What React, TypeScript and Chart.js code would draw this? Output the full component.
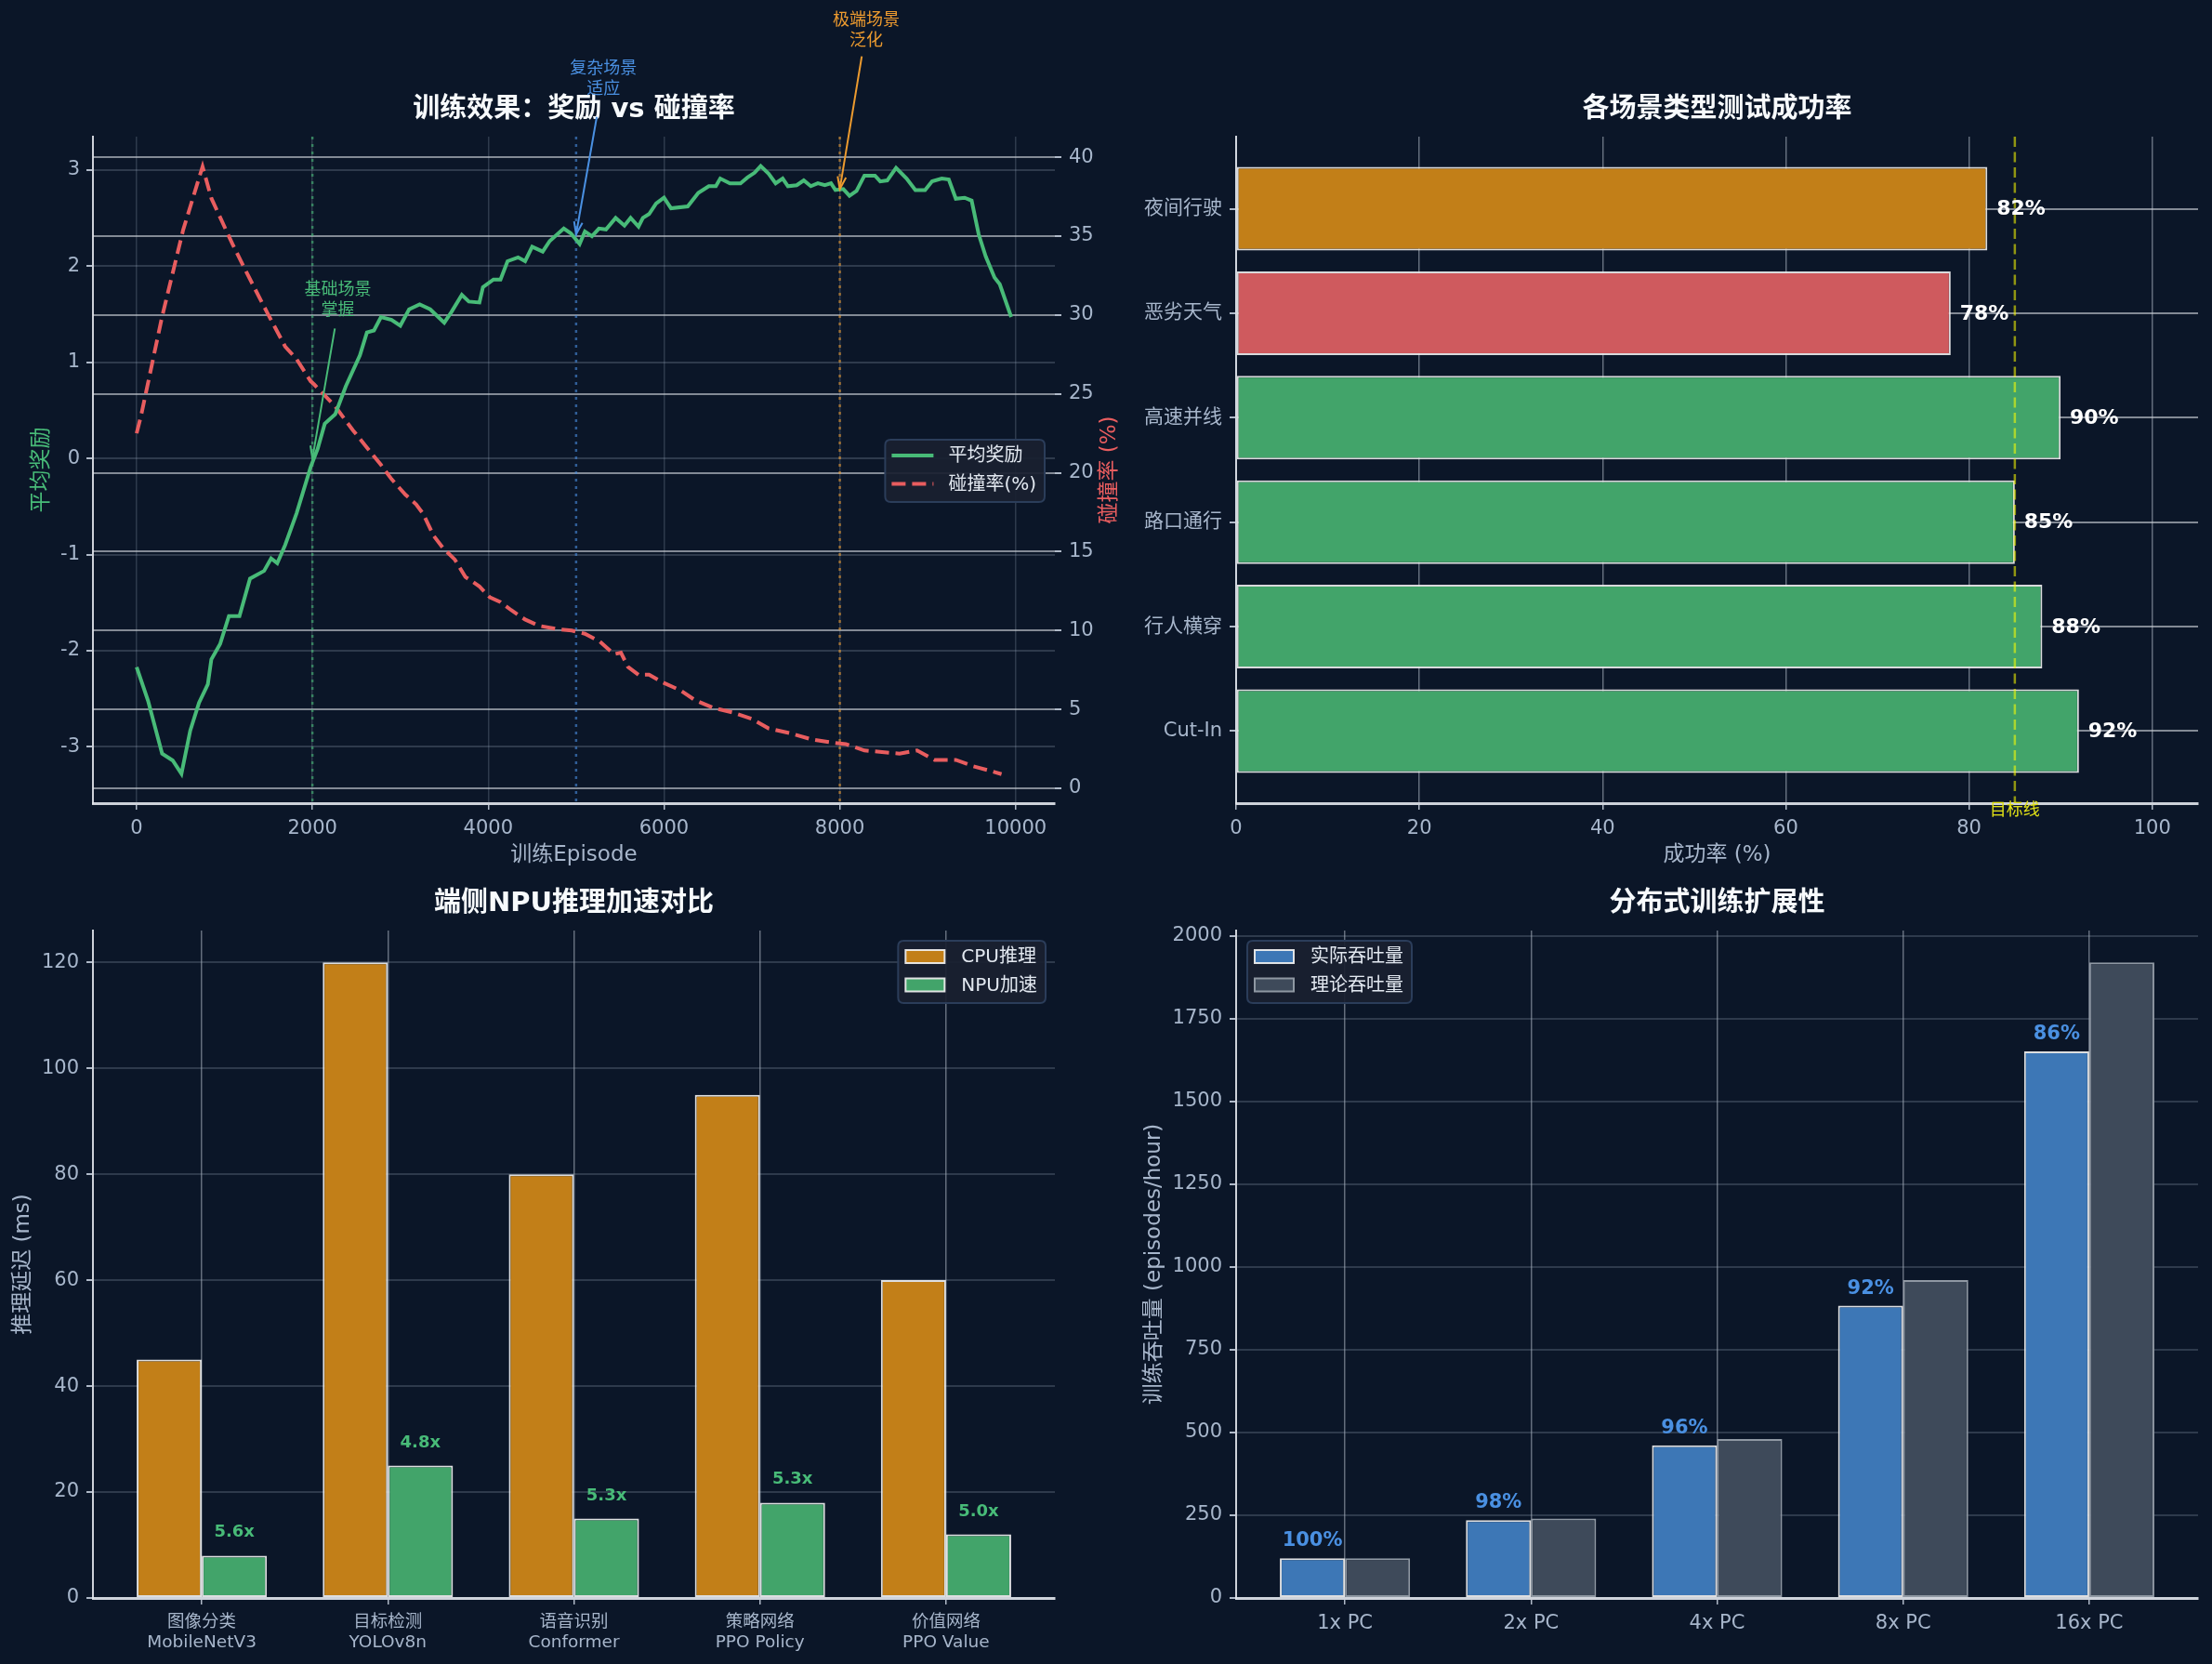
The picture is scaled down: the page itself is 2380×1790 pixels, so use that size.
import React, { useEffect, useRef } from 'react';
import { Chart, registerables } from 'chart.js';

Chart.register(...registerables);

// ---------------- data ----------------
// Panel 1: training curve
const rewardEpisodes = [0, 130, 290, 410, 510, 610, 710, 810, 850, 950, 1050, 1170, 1290, 1450, 1530, 1600, 1690, 1820, 1980, 2060, 2140, 2260, 2380, 2540, 2620, 2700, 2780, 2900, 3000, 3100, 3220, 3340, 3500, 3580, 3700, 3780, 3900, 3940, 4060, 4140, 4220, 4340, 4420, 4500, 4620, 4700, 4860, 4940, 5040, 5100, 5180, 5260, 5340, 5450, 5550, 5620, 5710, 5760, 5830, 5910, 6000, 6080, 6270, 6390, 6510, 6590, 6640, 6750, 6870, 6950, 7030, 7100, 7190, 7270, 7350, 7410, 7510, 7590, 7670, 7750, 7830, 7900, 7950, 8040, 8110, 8190, 8280, 8400, 8460, 8540, 8640, 8760, 8860, 8970, 9050, 9160, 9240, 9320, 9420, 9500, 9580, 9660, 9760, 9820, 9950];
const rewardValues = [-2.17, -2.52, -3.07, -3.14, -3.28, -2.83, -2.54, -2.35, -2.09, -1.93, -1.64, -1.64, -1.25, -1.17, -1.04, -1.09, -0.9, -0.57, -0.09, 0.1, 0.36, 0.46, 0.75, 1.07, 1.31, 1.33, 1.47, 1.44, 1.38, 1.55, 1.6, 1.55, 1.41, 1.52, 1.7, 1.63, 1.62, 1.78, 1.86, 1.86, 2.05, 2.09, 2.05, 2.2, 2.15, 2.26, 2.39, 2.34, 2.23, 2.36, 2.31, 2.39, 2.38, 2.5, 2.42, 2.5, 2.41, 2.5, 2.54, 2.65, 2.71, 2.6, 2.62, 2.76, 2.83, 2.83, 2.91, 2.86, 2.86, 2.92, 2.97, 3.04, 2.96, 2.86, 2.91, 2.83, 2.84, 2.89, 2.83, 2.86, 2.84, 2.86, 2.79, 2.8, 2.73, 2.78, 2.94, 2.94, 2.88, 2.89, 3.02, 2.91, 2.79, 2.79, 2.88, 2.91, 2.9, 2.7, 2.71, 2.68, 2.33, 2.1, 1.88, 1.81, 1.47];
const collisionEpisodes = [0, 50, 290, 530, 750, 850, 1090, 1250, 1490, 1690, 1820, 1980, 2020, 2260, 2460, 2620, 2780, 2900, 3060, 3180, 3260, 3380, 3490, 3620, 3740, 3900, 4020, 4140, 4260, 4420, 4580, 4780, 4950, 5100, 5270, 5430, 5510, 5590, 5710, 5830, 5990, 6190, 6350, 6560, 6790, 7000, 7190, 7430, 7680, 7910, 8070, 8280, 8480, 8680, 8880, 9080, 9320, 9520, 9720, 9840];
const collisionValues = [22.5, 23.6, 29.9, 35.4, 39.4, 37.4, 34.5, 32.7, 30.1, 28.0, 27.2, 25.8, 25.6, 24.2, 22.7, 21.6, 20.5, 19.6, 18.6, 18.0, 17.4, 16.0, 15.2, 14.5, 13.4, 12.8, 12.1, 11.8, 11.3, 10.7, 10.3, 10.1, 10.0, 9.8, 9.3, 8.5, 8.6, 7.7, 7.2, 7.2, 6.7, 6.2, 5.6, 5.1, 4.8, 4.4, 3.8, 3.5, 3.1, 2.9, 2.8, 2.4, 2.3, 2.2, 2.4, 1.8, 1.8, 1.4, 1.1, 0.9];
const milestoneEpisodes = [2000, 5000, 8000];
const milestoneRewards = [0.0, 2.33, 2.8];
const milestoneTexts = [['基础场景', '掌握'], ['复杂场景', '适应'], ['极端场景', '泛化']];
const episodeTicks = [0, 2000, 4000, 6000, 8000, 10000];
const rewardTicks = [-3, -2, -1, 0, 1, 2, 3];
const collisionTicks = [0, 5, 10, 15, 20, 25, 30, 35, 40];

// Panel 2: scenario success rates (bottom to top)
const scenarioNames = ['Cut-In', '行人横穿', '路口通行', '高速并线', '恶劣天气', '夜间行驶'];
const scenarioSuccess = [92, 88, 85, 90, 78, 82];
const targetRate = 85;
const successTicks = [0, 20, 40, 60, 80, 100];

// Panel 3: NPU acceleration
const modelTasks = ['图像分类', '目标检测', '语音识别', '策略网络', '价值网络'];
const modelNames = ['MobileNetV3', 'YOLOv8n', 'Conformer', 'PPO Policy', 'PPO Value'];
const cpuLatency = [45, 120, 80, 95, 60];
const npuLatency = [8, 25, 15, 18, 12];
const latencyTicks = [0, 20, 40, 60, 80, 100, 120];

// Panel 4: distributed scaling
const clusterSizes = ['1x PC', '2x PC', '4x PC', '8x PC', '16x PC'];
const actualThroughput = [120, 235, 461, 883, 1651];
const theoreticalThroughput = [120, 240, 480, 960, 1920];
const scalingEfficiency = [100, 98, 96, 92, 86];
const throughputTicks = [0, 250, 500, 750, 1000, 1250, 1500, 1750, 2000];

// ---------------- style ----------------
const W = 2380;
const H = 1790;
const BG = '#0b1628';
const FONT = '"DejaVu Sans", "Noto Sans CJK SC", sans-serif';
const TICK = '#a7b6cb';
const TICK_MARK = 'rgba(205,214,228,0.85)';
const SPINE = 'rgba(226,230,236,0.9)';
const GRID_DIM = 'rgba(160,174,192,0.24)';
const GRID_BRIGHT = 'rgba(205,210,216,0.62)';
const GRID_MID = 'rgba(190,198,210,0.5)';
const TITLE = '#f7fafc';
const LABEL = '#a7b6cb';
const GREEN = '#48bb78';
const RED = '#e85d5f';
const BLUE = '#4a90e2';
const ORANGE = '#ed9b2f';
const BAR_ORANGE = '#c27f18';
const BAR_RED = '#cf5a5e';
const BAR_GREEN = '#42a46a';
const BAR_BLUE = '#3d77b6';
const BAR_GRAY = '#3e4a5a';

function rgba(hex: string, a: number) {
  const n = parseInt(hex.slice(1), 16);
  return `rgba(${(n >> 16) & 255},${(n >> 8) & 255},${n & 255},${a})`;
}

function fit(size: number) {
  return (s: any) => {
    if (s.isHorizontal()) s.height = size;
    else s.width = size;
  };
}

function ticksAt(values: number[]) {
  return (s: any) => {
    s.ticks = values.map((v) => ({ value: v }));
  };
}

function drawText(ctx: any, str: string, x: number, y: number, o: any) {
  ctx.save();
  ctx.font = `${o.weight || 'normal'} ${o.size}px ${FONT}`;
  ctx.fillStyle = o.color;
  ctx.textAlign = o.align || 'center';
  ctx.textBaseline = o.baseline || 'middle';
  ctx.translate(x, y);
  if (o.rotate) ctx.rotate(o.rotate);
  ctx.fillText(str, 0, 0);
  ctx.restore();
}

function roundRect(ctx: any, x: number, y: number, w: number, h: number, r: number) {
  ctx.beginPath();
  ctx.moveTo(x + r, y);
  ctx.lineTo(x + w - r, y);
  ctx.quadraticCurveTo(x + w, y, x + w, y + r);
  ctx.lineTo(x + w, y + h - r);
  ctx.quadraticCurveTo(x + w, y + h, x + w - r, y + h);
  ctx.lineTo(x + r, y + h);
  ctx.quadraticCurveTo(x, y + h, x, y + h - r);
  ctx.lineTo(x, y + r);
  ctx.quadraticCurveTo(x, y, x + r, y);
  ctx.closePath();
}

function drawLegend(ctx: any, items: any[], pos: any) {
  ctx.save();
  ctx.font = `20px ${FONT}`;
  const textW = Math.max(...items.map((it) => ctx.measureText(it.label).width));
  const w = 68 + textW + 9;
  const h = 67;
  const left = pos.left !== undefined ? pos.left : pos.right - w;
  const top = pos.top !== undefined ? pos.top : pos.cy - h / 2;
  roundRect(ctx, left, top, w, h, 6);
  ctx.fillStyle = 'rgba(26,32,48,0.93)';
  ctx.fill();
  ctx.strokeStyle = '#2b3d5a';
  ctx.lineWidth = 2;
  ctx.stroke();
  items.forEach((it, i) => {
    const cy = top + 17 + i * 30.5;
    if (it.kind === 'line') {
      ctx.save();
      ctx.strokeStyle = it.color;
      ctx.lineWidth = 4;
      if (it.dash) ctx.setLineDash(it.dash);
      ctx.beginPath();
      ctx.moveTo(left + 7, cy);
      ctx.lineTo(left + 52, cy);
      ctx.stroke();
      ctx.restore();
    } else {
      ctx.fillStyle = it.color;
      ctx.fillRect(left + 8, cy - 7, 42, 14);
      ctx.strokeStyle = it.border;
      ctx.lineWidth = 2;
      ctx.strokeRect(left + 8, cy - 7, 42, 14);
    }
    drawText(ctx, it.label, left + 68, cy + 1, { size: 20, color: '#e2e8f0', align: 'left' });
  });
  ctx.restore();
}

function drawArrow(ctx: any, x0: number, y0: number, x1: number, y1: number, color: string) {
  ctx.save();
  ctx.strokeStyle = color;
  ctx.lineWidth = 2;
  ctx.beginPath();
  ctx.moveTo(x0, y0);
  ctx.lineTo(x1, y1);
  ctx.stroke();
  const a = Math.atan2(y1 - y0, x1 - x0);
  const L = 14;
  const s = 0.33;
  ctx.beginPath();
  ctx.moveTo(x1 - L * Math.cos(a - s), y1 - L * Math.sin(a - s));
  ctx.lineTo(x1, y1);
  ctx.lineTo(x1 - L * Math.cos(a + s), y1 - L * Math.sin(a + s));
  ctx.stroke();
  ctx.restore();
}

const baseOptions = {
  responsive: false,
  animation: false,
  devicePixelRatio: 1,
  events: [],
  plugins: { legend: { display: false }, title: { display: false }, tooltip: { enabled: false } },
};

// ---------------- panel 1 ----------------
function makeTrainingChart() {
  const milestoneColors = [GREEN, BLUE, ORANGE];
  // text block centre and arrow start, in data coordinates
  const notes = [
    { tx: 2290, ty: 1.64, ax: 2255, ay: 1.35 },
    { tx: 5310, ty: 3.94, ax: 5235, ay: 3.55 },
    { tx: 8300, ty: 4.44, ax: 8250, ay: 4.18 },
  ];
  const decor = {
    id: 'trainingDecor',
    beforeDatasetsDraw(chart: any) {
      const { ctx, chartArea: ca, scales } = chart;
      milestoneEpisodes.forEach((ep, i) => {
        const px = scales.x.getPixelForValue(ep);
        ctx.save();
        ctx.strokeStyle = rgba(milestoneColors[i], 0.6);
        ctx.lineWidth = 2.5;
        ctx.setLineDash([3, 5]);
        ctx.beginPath();
        ctx.moveTo(px, ca.top);
        ctx.lineTo(px, ca.bottom);
        ctx.stroke();
        ctx.restore();
      });
    },
    afterDatasetsDraw(chart: any) {
      const { ctx, chartArea: ca } = chart;
      const ds = chart.data.datasets;
      drawLegend(
        ctx,
        [
          { label: ds[0].label, kind: 'line', color: ds[0].borderColor },
          { label: ds[1].label, kind: 'line', color: ds[1].borderColor, dash: ds[1].borderDash },
        ],
        { right: ca.right - 11, cy: (ca.top + ca.bottom) / 2 + 1 }
      );
    },
    afterDraw(chart: any) {
      const { ctx, chartArea: ca, scales } = chart;
      const cx = (ca.left + ca.right) / 2;
      drawText(ctx, '训练效果：奖励 vs 碰撞率', cx, ca.top - 29, { size: 29, weight: 'bold', color: TITLE });
      drawText(ctx, '训练Episode', cx, ca.bottom + 56, { size: 23, color: LABEL });
      drawText(ctx, '平均奖励', 45, (ca.top + ca.bottom) / 2, { size: 23, color: GREEN, rotate: -Math.PI / 2 });
      drawText(ctx, '碰撞率 (%)', 1194, (ca.top + ca.bottom) / 2, { size: 23, color: RED, rotate: -Math.PI / 2 });
      notes.forEach((n, i) => {
        const col = milestoneColors[i];
        const tx = scales.x.getPixelForValue(n.tx);
        const ty = scales.y.getPixelForValue(n.ty);
        drawText(ctx, milestoneTexts[i][0], tx, ty - 11, { size: 18, color: col });
        drawText(ctx, milestoneTexts[i][1], tx, ty + 11, { size: 18, color: col });
        drawArrow(
          ctx,
          scales.x.getPixelForValue(n.ax),
          scales.y.getPixelForValue(n.ay),
          scales.x.getPixelForValue(milestoneEpisodes[i]),
          scales.y.getPixelForValue(milestoneRewards[i]),
          col
        );
      });
    },
  };
  return {
    type: 'line',
    data: {
      datasets: [
        {
          label: '平均奖励',
          data: rewardEpisodes.map((x, i) => ({ x, y: rewardValues[i] })),
          yAxisID: 'y',
          borderColor: GREEN,
          borderWidth: 4,
          pointRadius: 0,
          tension: 0,
          fill: false,
        },
        {
          label: '碰撞率(%)',
          data: collisionEpisodes.map((x, i) => ({ x, y: collisionValues[i] })),
          yAxisID: 'y1',
          borderColor: RED,
          borderWidth: 4,
          borderDash: [15, 7],
          pointRadius: 0,
          tension: 0,
          fill: false,
        },
      ],
    },
    options: {
      ...baseOptions,
      layout: { padding: { left: 0, top: 147, right: 1165, bottom: 866 } },
      scales: {
        x: {
          type: 'linear',
          min: -497,
          max: 10447,
          afterFit: fit(60),
          afterBuildTicks: ticksAt(episodeTicks),
          ticks: { autoSkip: false, color: TICK, font: { family: FONT, size: 21 }, padding: 8, maxRotation: 0, callback: (v: any) => String(v) },
          grid: { color: GRID_DIM, lineWidth: 1.5, tickLength: 7, tickColor: TICK_MARK },
          border: { display: true, color: SPINE, width: 3 },
        },
        y: {
          type: 'linear',
          position: 'left',
          min: -3.585,
          max: 3.345,
          afterFit: fit(100),
          afterBuildTicks: ticksAt(rewardTicks),
          ticks: { autoSkip: false, color: TICK, font: { family: FONT, size: 21 }, padding: 7, callback: (v: any) => String(v) },
          grid: { color: GRID_DIM, lineWidth: 2, tickLength: 7, tickColor: TICK_MARK },
          border: { display: true, color: SPINE, width: 2 },
        },
        y1: {
          type: 'linear',
          position: 'right',
          min: -0.94,
          max: 41.3,
          z: 1,
          afterFit: fit(80),
          afterBuildTicks: ticksAt(collisionTicks),
          ticks: { autoSkip: false, color: TICK, font: { family: FONT, size: 21 }, padding: 8, callback: (v: any) => String(v) },
          grid: { color: GRID_BRIGHT, lineWidth: 2, tickLength: 7, tickColor: TICK_MARK },
          border: { display: false },
        },
      },
    },
    plugins: [decor],
  };
}

// ---------------- panel 2 ----------------
function makeScenarioChart() {
  const colorFor = (v: number) => (v >= 85 ? BAR_GREEN : v >= 80 ? BAR_ORANGE : BAR_RED);
  const decor = {
    id: 'scenarioDecor',
    afterDatasetsDraw(chart: any) {
      const { ctx, chartArea: ca, scales } = chart;
      const px = scales.x.getPixelForValue(targetRate);
      ctx.save();
      ctx.strokeStyle = 'rgba(255,255,0,0.55)';
      ctx.lineWidth = 2.5;
      ctx.setLineDash([11, 5.5]);
      ctx.beginPath();
      ctx.moveTo(px, ca.top);
      ctx.lineTo(px, ca.bottom);
      ctx.stroke();
      ctx.restore();
    },
    afterDraw(chart: any) {
      const { ctx, chartArea: ca, scales } = chart;
      const cx = (ca.left + ca.right) / 2;
      drawText(ctx, '各场景类型测试成功率', cx, ca.top - 29, { size: 29, weight: 'bold', color: TITLE });
      drawText(ctx, '成功率 (%)', cx, ca.bottom + 56, { size: 23, color: LABEL });
      drawText(ctx, '目标线', scales.x.getPixelForValue(targetRate), ca.bottom + 8, { size: 18, color: '#e0e016' });
      const meta = chart.getDatasetMeta(0);
      meta.data.forEach((bar: any, i: number) => {
        const v = scenarioSuccess[i];
        drawText(ctx, `${v}%`, scales.x.getPixelForValue(v + 1), bar.y + 1, { size: 22, weight: 'bold', color: '#ffffff', align: 'left' });
      });
    },
  };
  return {
    type: 'bar',
    data: {
      datasets: [
        {
          label: '成功率',
          data: scenarioSuccess.map((v, i) => ({ x: v, y: i })),
          backgroundColor: scenarioSuccess.map(colorFor),
          borderColor: 'rgba(236,236,236,0.92)',
          borderWidth: 2,
          borderSkipped: false,
          categoryPercentage: 1,
          barPercentage: 0.8,
        },
      ],
    },
    options: {
      ...baseOptions,
      indexAxis: 'y',
      layout: { padding: { left: 1230, top: 147, right: 15, bottom: 866 } },
      scales: {
        x: {
          type: 'linear',
          position: 'bottom',
          min: 0,
          max: 105,
          z: 1,
          offset: false,
          afterFit: fit(60),
          afterBuildTicks: ticksAt(successTicks),
          ticks: { autoSkip: false, color: TICK, font: { family: FONT, size: 21 }, padding: 8, maxRotation: 0 },
          grid: { offset: false, color: GRID_MID, lineWidth: 1.5, tickLength: 7, tickColor: TICK_MARK },
          border: { display: true, color: SPINE, width: 3 },
        },
        y: {
          type: 'linear',
          position: 'left',
          min: -0.69,
          max: 5.69,
          z: 1,
          offset: false,
          afterFit: fit(100),
          afterBuildTicks: ticksAt(scenarioNames.map((_, i) => i)),
          ticks: { autoSkip: false, color: TICK, font: { family: FONT, size: 21 }, padding: 8, callback: (v: any) => scenarioNames[Math.round(v)] ?? '' },
          grid: { offset: false, color: GRID_BRIGHT, lineWidth: 2, tickLength: 7, tickColor: TICK_MARK },
          border: { display: true, color: SPINE, width: 2 },
        },
      },
    },
    plugins: [decor],
  };
}

// ---------------- panel 3 ----------------
function makeNpuChart() {
  const decor = {
    id: 'npuDecor',
    afterDraw(chart: any) {
      const { ctx, chartArea: ca } = chart;
      const cx = (ca.left + ca.right) / 2;
      drawText(ctx, '端侧NPU推理加速对比', cx, ca.top - 29, { size: 29, weight: 'bold', color: TITLE });
      drawText(ctx, '推理延迟 (ms)', 25, (ca.top + ca.bottom) / 2, { size: 23, color: LABEL, rotate: -Math.PI / 2 });
      const meta = chart.getDatasetMeta(1);
      meta.data.forEach((bar: any, i: number) => {
        const sp = (cpuLatency[i] / npuLatency[i]).toFixed(1) + 'x';
        drawText(ctx, sp, bar.x, bar.y - 20, { size: 18, weight: 'bold', color: GREEN, baseline: 'alphabetic' });
      });
      const ds = chart.data.datasets;
      drawLegend(
        ctx,
        [
          { label: ds[0].label, kind: 'patch', color: ds[0].backgroundColor, border: ds[0].borderColor },
          { label: ds[1].label, kind: 'patch', color: ds[1].backgroundColor, border: ds[1].borderColor },
        ],
        { right: ca.right - 10, top: ca.top + 11 }
      );
    },
  };
  return {
    type: 'bar',
    data: {
      datasets: [
        {
          label: 'CPU推理',
          data: cpuLatency.map((v, i) => ({ x: i, y: v })),
          backgroundColor: BAR_ORANGE,
          borderColor: 'rgba(240,240,240,0.92)',
          borderWidth: 2,
          borderSkipped: false,
          categoryPercentage: 0.7,
          barPercentage: 1,
        },
        {
          label: 'NPU加速',
          data: npuLatency.map((v, i) => ({ x: i, y: v })),
          backgroundColor: BAR_GREEN,
          borderColor: 'rgba(240,240,240,0.92)',
          borderWidth: 2,
          borderSkipped: false,
          categoryPercentage: 0.7,
          barPercentage: 1,
        },
      ],
    },
    options: {
      ...baseOptions,
      layout: { padding: { left: 0, top: 1001, right: 1245, bottom: 0 } },
      scales: {
        x: {
          type: 'linear',
          min: -0.585,
          max: 4.585,
          z: 1,
          offset: false,
          afterFit: fit(71),
          afterBuildTicks: ticksAt(modelTasks.map((_, i) => i)),
          ticks: { autoSkip: false, color: TICK, font: { family: FONT, size: 18.5 }, padding: 8, maxRotation: 0, callback: (v: any) => [modelTasks[Math.round(v)], modelNames[Math.round(v)]] },
          grid: { offset: false, color: GRID_MID, lineWidth: 1.5, tickLength: 7, tickColor: TICK_MARK },
          border: { display: true, color: SPINE, width: 3 },
        },
        y: {
          type: 'linear',
          min: 0,
          max: 126,
          z: 1,
          afterFit: fit(100),
          afterBuildTicks: ticksAt(latencyTicks),
          ticks: { autoSkip: false, color: TICK, font: { family: FONT, size: 21 }, padding: 8 },
          grid: { color: GRID_DIM, lineWidth: 2, tickLength: 7, tickColor: TICK_MARK },
          border: { display: true, color: SPINE, width: 2 },
        },
      },
    },
    plugins: [decor],
  };
}

// ---------------- panel 4 ----------------
function makeScalingChart() {
  const decor = {
    id: 'scalingDecor',
    afterDraw(chart: any) {
      const { ctx, chartArea: ca } = chart;
      const cx = (ca.left + ca.right) / 2;
      drawText(ctx, '分布式训练扩展性', cx, ca.top - 29, { size: 29, weight: 'bold', color: TITLE });
      drawText(ctx, '训练吞吐量 (episodes/hour)', 1242, (ca.top + ca.bottom) / 2, { size: 23, color: LABEL, rotate: -Math.PI / 2 });
      const meta = chart.getDatasetMeta(0);
      meta.data.forEach((bar: any, i: number) => {
        drawText(ctx, `${scalingEfficiency[i]}%`, bar.x, bar.y - 13, { size: 21, weight: 'bold', color: BLUE, baseline: 'alphabetic' });
      });
      const ds = chart.data.datasets;
      drawLegend(
        ctx,
        [
          { label: ds[0].label, kind: 'patch', color: ds[0].backgroundColor, border: ds[0].borderColor },
          { label: ds[1].label, kind: 'patch', color: ds[1].backgroundColor, border: ds[1].borderColor },
        ],
        { left: ca.left + 12, top: ca.top + 11 }
      );
    },
  };
  return {
    type: 'bar',
    data: {
      datasets: [
        {
          label: '实际吞吐量',
          data: actualThroughput.map((v, i) => ({ x: i, y: v })),
          backgroundColor: BAR_BLUE,
          borderColor: 'rgba(240,240,240,0.92)',
          borderWidth: 2,
          borderSkipped: false,
          categoryPercentage: 0.7,
          barPercentage: 1,
        },
        {
          label: '理论吞吐量',
          data: theoreticalThroughput.map((v, i) => ({ x: i, y: v })),
          backgroundColor: BAR_GRAY,
          borderColor: '#8f98a3',
          borderWidth: 2,
          borderSkipped: false,
          categoryPercentage: 0.7,
          barPercentage: 1,
        },
      ],
    },
    options: {
      ...baseOptions,
      layout: { padding: { left: 1230, top: 1001, right: 15, bottom: 0 } },
      scales: {
        x: {
          type: 'linear',
          min: -0.585,
          max: 4.585,
          z: 1,
          offset: false,
          afterFit: fit(71),
          afterBuildTicks: ticksAt(clusterSizes.map((_, i) => i)),
          ticks: { autoSkip: false, color: TICK, font: { family: FONT, size: 21 }, padding: 8, maxRotation: 0, callback: (v: any) => clusterSizes[Math.round(v)] },
          grid: { offset: false, color: GRID_MID, lineWidth: 1.5, tickLength: 7, tickColor: TICK_MARK },
          border: { display: true, color: SPINE, width: 3 },
        },
        y: {
          type: 'linear',
          min: 0,
          max: 2016,
          z: 1,
          afterFit: fit(100),
          afterBuildTicks: ticksAt(throughputTicks),
          ticks: { autoSkip: false, color: TICK, font: { family: FONT, size: 21 }, padding: 8, callback: (v: any) => String(v) },
          grid: { color: GRID_DIM, lineWidth: 2, tickLength: 7, tickColor: TICK_MARK },
          border: { display: true, color: SPINE, width: 2 },
        },
      },
    },
    plugins: [decor],
  };
}

function ChartLayer({ make }: { make: () => any }) {
  const ref = useRef<HTMLCanvasElement | null>(null);
  useEffect(() => {
    const chart = new Chart(ref.current as HTMLCanvasElement, make());
    return () => chart.destroy();
  }, [make]);
  return (
    <canvas
      ref={ref}
      width={W}
      height={H}
      style={{ position: 'absolute', left: 0, top: 0, width: W, height: H, pointerEvents: 'none' }}
    />
  );
}

export default function App() {
  return (
    <div style={{ position: 'absolute', left: 0, top: 0, width: W, height: H, background: BG, overflow: 'hidden' }}>
      <ChartLayer make={makeTrainingChart} />
      <ChartLayer make={makeScenarioChart} />
      <ChartLayer make={makeNpuChart} />
      <ChartLayer make={makeScalingChart} />
    </div>
  );
}
